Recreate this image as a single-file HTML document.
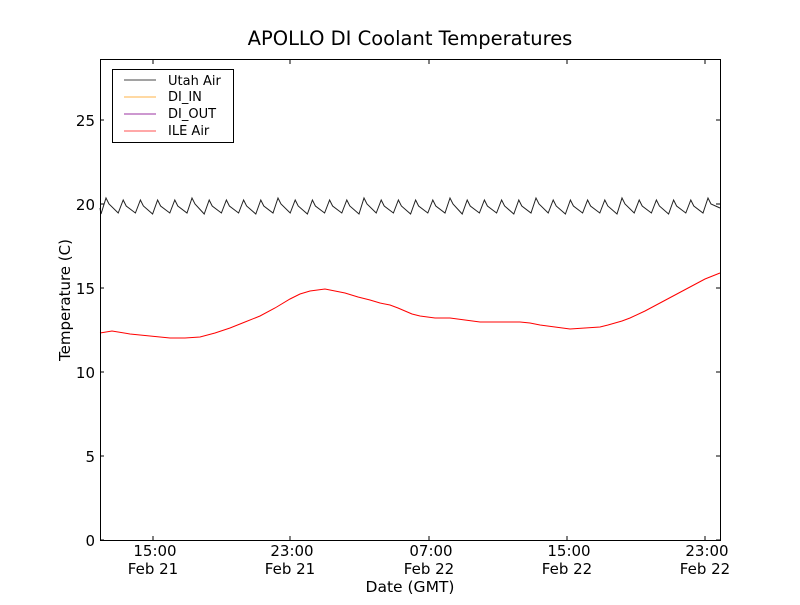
<!DOCTYPE html>
<html><head><style>
body{margin:0;background:#fff;}
svg text{font-family:"DejaVu Sans","Liberation Sans",sans-serif;}
</style></head><body>
<svg width="800" height="600" xmlns="http://www.w3.org/2000/svg">
<rect width="800" height="600" fill="#fff"/>
<text x="410" y="45" font-size="19.5" text-anchor="middle">APOLLO DI Coolant Temperatures</text>
<g id="black"></g>
<polyline fill="none" stroke="#ff0000" stroke-width="1" points="100,333 112,331 130,334 150,336 170,338 185,338 200,337 215,333 230,328 245,322 260,316 275,308 290,299 300,294 310,291 325,289 335,291 345,293 358,297 370,300 380,303 390,305 398,308 405,311 412,314 420,316 435,318 450,318 465,320 480,322 500,322 520,322 530,323 540,325 555,327 570,329 585,328 600,327 608,325 615,323 622,321 630,318 645,311 660,303 675,295 690,287 705,279 720,273"/>
<rect x="100.5" y="59.5" width="620" height="481" fill="none" stroke="#000"/>
<g stroke="#000">
<line x1="100" y1="540" x2="104" y2="540"/><line x1="716" y1="540" x2="720" y2="540"/>
<line x1="100" y1="456" x2="104" y2="456"/><line x1="716" y1="456" x2="720" y2="456"/>
<line x1="100" y1="372" x2="104" y2="372"/><line x1="716" y1="372" x2="720" y2="372"/>
<line x1="100" y1="288" x2="104" y2="288"/><line x1="716" y1="288" x2="720" y2="288"/>
<line x1="100" y1="204" x2="104" y2="204"/><line x1="716" y1="204" x2="720" y2="204"/>
<line x1="100" y1="120" x2="104" y2="120"/><line x1="716" y1="120" x2="720" y2="120"/>
<line x1="153" y1="540" x2="153" y2="536"/><line x1="153" y1="60" x2="153" y2="64"/>
<line x1="290" y1="540" x2="290" y2="536"/><line x1="290" y1="60" x2="290" y2="64"/>
<line x1="429" y1="540" x2="429" y2="536"/><line x1="429" y1="60" x2="429" y2="64"/>
<line x1="567" y1="540" x2="567" y2="536"/><line x1="567" y1="60" x2="567" y2="64"/>
<line x1="705" y1="540" x2="705" y2="536"/><line x1="705" y1="60" x2="705" y2="64"/>
</g>
<g font-size="15" text-anchor="end">
<text x="95" y="546">0</text><text x="95" y="462">5</text><text x="95" y="378">10</text>
<text x="95" y="294">15</text><text x="95" y="210">20</text><text x="95" y="126">25</text>
</g>
<g font-size="15" text-anchor="middle">
<text x="155" y="556">15:00</text><text x="153" y="574">Feb 21</text>
<text x="292" y="556">23:00</text><text x="290" y="574">Feb 21</text>
<text x="431" y="556">07:00</text><text x="429" y="574">Feb 22</text>
<text x="569" y="556">15:00</text><text x="567" y="574">Feb 22</text>
<text x="707" y="556">23:00</text><text x="705" y="574">Feb 22</text>
</g>
<text x="410" y="592" font-size="15.5" text-anchor="middle">Date (GMT)</text>
<text transform="translate(70,300) rotate(-90)" font-size="15" text-anchor="middle">Temperature (C)</text>
<rect x="112.5" y="69.5" width="121" height="73" fill="#fff" stroke="#000"/>
<g stroke-width="1">
<line x1="124" y1="80" x2="156" y2="80" stroke="#444"/>
<line x1="124" y1="97" x2="156" y2="97" stroke="#ffb347"/>
<line x1="124" y1="114" x2="156" y2="114" stroke="#9b30a0"/>
<line x1="124" y1="131" x2="156" y2="131" stroke="#ff5050"/>
</g>
<g font-size="13">
<text x="168" y="85">Utah Air</text><text x="168" y="101">DI_IN</text>
<text x="168" y="118">DI_OUT</text><text x="168" y="135">ILE Air</text>
</g>
</svg>
<script>
var pts=["100,208"];
var peaks=[];for(var p=106;p<720;p+=17.2){peaks.push(p);}
for(var i=0;i<peaks.length;i++){var p=peaks[i];
 var pk=199+(i%5==0?-1:1), tr=213+(i%3==0?1:0);
 pts.push((p-5).toFixed(1)+","+tr);pts.push(p.toFixed(1)+","+pk);pts.push((p+3).toFixed(1)+","+(pk+6));}
pts.push("720,208");
var pl=document.createElementNS("http://www.w3.org/2000/svg","polyline");
pl.setAttribute("points",pts.join(" "));pl.setAttribute("fill","none");pl.setAttribute("stroke","#222");pl.setAttribute("stroke-width","1");
document.getElementById("black").appendChild(pl);
</script>
</body></html>
